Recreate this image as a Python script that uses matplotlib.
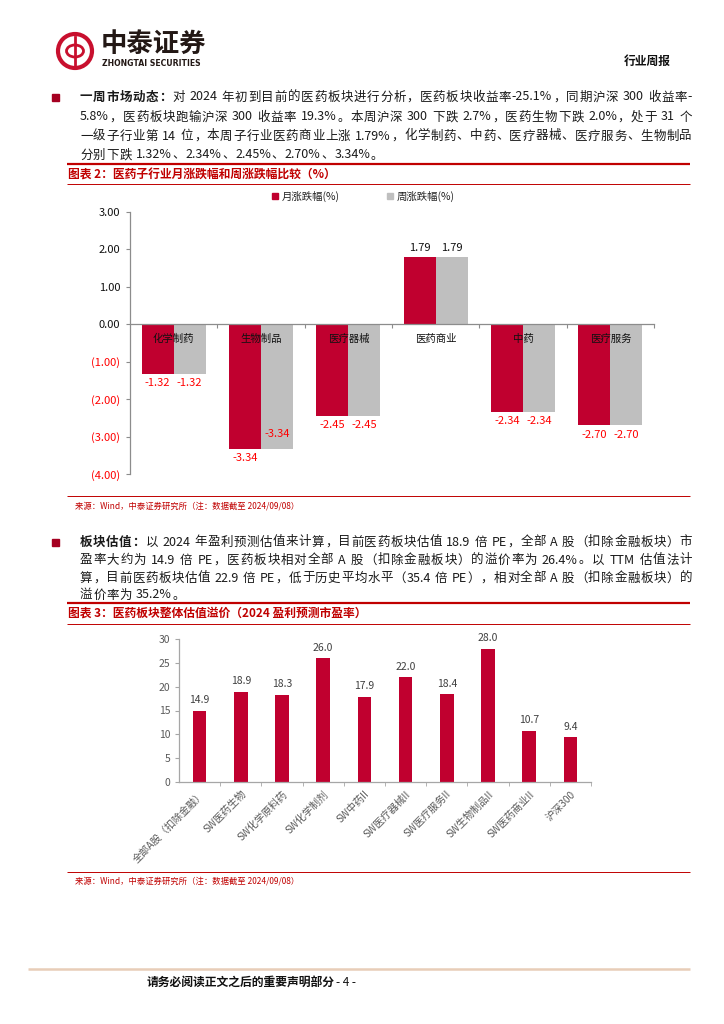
import matplotlib
matplotlib.use('Agg')
import matplotlib.pyplot as plt
import numpy as np
from matplotlib.patches import Circle, Rectangle, Ellipse

plt.rcParams['font.family'] = ['Noto Sans CJK SC', 'DejaVu Sans']
plt.rcParams['axes.unicode_minus'] = False

# ---------------- data ----------------
sub_cats = ['化学制药', '生物制品', '医疗器械', '医药商业', '中药', '医疗服务']
monthly_chg = [-1.32, -3.34, -2.45, 1.79, -2.34, -2.70]
weekly_chg = [-1.32, -3.34, -2.45, 1.79, -2.34, -2.70]
series_names = ['月涨跌幅(%)', '周涨跌幅(%)']
y1_ticks = [3, 2, 1, 0, -1, -2, -3, -4]

val_cats = ['全部A股（扣除金融）', 'SW医药生物', 'SW化学原料药', 'SW化学制剂', 'SW中药II',
            'SW医疗器械II', 'SW医疗服务II', 'SW生物制品II', 'SW医药商业II', '沪深300']
pe_values = [14.9, 18.9, 18.3, 26.0, 17.9, 22.0, 18.4, 28.0, 10.7, 9.4]
y2_ticks = [0, 5, 10, 15, 20, 25, 30]

para1 = [
    [('一周市场动态：', 'bold'), ('对 2024 年初到目前的医药板块进行分析，医药板块收益率-25.1%，同期沪深 300 收益率-', 'normal')],
    [('5.8%，医药板块跑输沪深 300 收益率 19.3%。本周沪深 300 下跌 2.7%，医药生物下跌 2.0%，处于 31 个', 'normal')],
    [('一级子行业第 14 位，本周子行业医药商业上涨 1.79%，化学制药、中药、医疗器械、医疗服务、生物制品', 'normal')],
    [('分别下跌 1.32%、2.34%、2.45%、2.70%、3.34%。', 'normal')],
]
para2 = [
    [('板块估值：', 'bold'), ('以 2024 年盈利预测估值来计算，目前医药板块估值 18.9 倍 PE，全部 A 股（扣除金融板块）市', 'normal')],
    [('盈率大约为 14.9 倍 PE，医药板块相对全部 A 股（扣除金融板块）的溢价率为 26.4%。以 TTM 估值法计', 'normal')],
    [('算，目前医药板块估值 22.9 倍 PE，低于历史平均水平（35.4 倍 PE），相对全部 A 股（扣除金融板块）的', 'normal')],
    [('溢价率为 35.2%。', 'normal')],
]
title1 = '图表 2：医药子行业月涨跌幅和周涨跌幅比较（%）'
title2 = '图表 3：医药板块整体估值溢价（2024 盈利预测市盈率）'
source_txt = '来源：Wind，中泰证券研究所（注：数据截至 2024/09/08）'

# ---------------- styles ----------------
RED = '#C00000'
BAR_RED = '#C0002F'
GREY = '#BFBFBF'
W, H = 724, 1024

fig = plt.figure(figsize=(W / 100, H / 100), dpi=100)
bg = fig.add_axes([0, 0, 1, 1], zorder=0)
bg.set_xlim(0, W)
bg.set_ylim(H, 0)
bg.axis('off')
renderer = fig.canvas.get_renderer()

_cache = {}
def tw(s, size, weight):
    key = (s, size, weight)
    if key not in _cache:
        t = bg.text(0, 0, s, fontsize=size, fontweight=weight)
        _cache[key] = t.get_window_extent(renderer).width
        t.remove()
    return _cache[key]

def tokenize(s):
    out, buf = [], ''
    for ch in s:
        if ord(ch) < 128 and ch != ' ':
            buf += ch
        else:
            if buf:
                out.append(buf)
                buf = ''
            out.append(ch)
    if buf:
        out.append(buf)
    return out

def draw_line(x0, x1, y, runs, size, justify, color='#1a1a1a'):
    toks = []
    for txt, wt in runs:
        for tk in tokenize(txt):
            toks.append((tk, wt))
    widths = [size * 1.389 * 0.25 if tk == ' ' else tw(tk, size, wt) for tk, wt in toks]
    total = sum(widths)
    gap = (x1 - x0 - total) / (len(toks) - 1) if justify and len(toks) > 1 else 0.6
    x = x0
    for (tk, wt), wd in zip(toks, widths):
        if tk != ' ':
            bg.text(x, y, tk, fontsize=size, fontweight=wt, color=color, ha='left', va='center')
        x += wd + gap

def hline(y, x0=67, x1=690, color=RED, lw=0.8):
    bg.plot([x0, x1], [y, y], color=color, lw=lw, solid_capstyle='butt')

# ---------------- header ----------------
bg.add_patch(Circle((75, 51), 17, fill=False, ec='#C8102E', lw=3.0))
bg.add_patch(Ellipse((75, 51), 17, 12, fill=False, ec='#C8102E', lw=2.0))
bg.plot([75, 75], [37, 65], color='#C8102E', lw=2.0)
bg.text(101, 44, '中泰证券', fontsize=19, fontweight='bold', color='#231815', ha='left', va='center')
bg.text(102, 63, 'ZHONGTAI SECURITIES', fontsize=5.6, fontweight='bold', color='#231815',
        ha='left', va='center', family='DejaVu Sans')
bg.text(671, 61, '行业周报', fontsize=8.5, fontweight='bold', color='#111111', ha='right', va='center')

# ---------------- paragraph 1 ----------------
FS = 9
bg.add_patch(Rectangle((52, 93.5), 7, 7, color='#A50021'))
ys1 = [97, 117, 136, 155]
for i, (runs, y) in enumerate(zip(para1, ys1)):
    draw_line(80, 692, y, runs, FS, justify=(i < len(para1) - 1))

hline(164, lw=1.6)
bg.text(68, 175, title1, fontsize=8.5, fontweight='bold', color=RED, ha='left', va='center')
hline(184, lw=0.7)

# legend chart 1
bg.add_patch(Rectangle((272, 193), 6, 6, color=BAR_RED))
bg.text(282, 196, series_names[0], fontsize=7.5, color='#222222', ha='left', va='center')
bg.add_patch(Rectangle((387, 193), 6, 6, color=GREY))
bg.text(397, 196, series_names[1], fontsize=7.5, color='#222222', ha='left', va='center')

# ---------------- chart 1 ----------------
ax1 = fig.add_axes([130 / W, 1 - 474 / H, 524 / W, 262 / H], zorder=2)
ax1.patch.set_alpha(0)
x = np.arange(len(sub_cats))
bw = 0.367
ax1.bar(x - bw / 2, monthly_chg, bw, color=BAR_RED, zorder=2)
ax1.bar(x + bw / 2, weekly_chg, bw, color=GREY, zorder=2)
ax1.set_xlim(-0.5, len(sub_cats) - 0.5)
ax1.set_ylim(min(y1_ticks), max(y1_ticks))
for s in ['top', 'right']:
    ax1.spines[s].set_visible(False)
ax1.spines['bottom'].set_position(('data', 0))
for s in ['left', 'bottom']:
    ax1.spines[s].set_color('#8C8C8C')
    ax1.spines[s].set_linewidth(0.9)
ax1.set_yticks(y1_ticks)
ax1.set_yticklabels([f'{v:.2f}' if v >= 0 else f'({abs(v):.2f})' for v in y1_ticks], fontsize=8)
for lab, v in zip(ax1.get_yticklabels(), y1_ticks):
    lab.set_color('#FF0000' if v < 0 else '#111111')
ax1.tick_params(axis='y', length=3, color='#8C8C8C', pad=4)
ax1.set_xticks(np.arange(0.5, len(sub_cats), 1))
ax1.set_xticklabels([])
ax1.tick_params(axis='x', length=3, color='#8C8C8C')
for i, c in enumerate(sub_cats):
    ax1.text(i, -0.4, c, ha='center', va='center', fontsize=7.5, color='#111111', zorder=3)
for i, (m, wv) in enumerate(zip(monthly_chg, weekly_chg)):
    for xpos, v, kind in [(i - bw / 2, m, 'm'), (i + bw / 2, wv, 'w')]:
        lab = f'{v:.2f}'
        if v >= 0:
            ax1.annotate(lab, (xpos, v), xytext=(0, 3), textcoords='offset points',
                         ha='center', va='bottom', fontsize=8, color='#111111')
        elif kind == 'w' and i == 1:
            ax1.text(xpos, v + 0.4, lab, ha='center', va='center', fontsize=8, color='#FF0000', zorder=3)
        else:
            ax1.annotate(lab, (xpos, v), xytext=(0, -3), textcoords='offset points',
                         ha='center', va='top', fontsize=8, color='#FF0000')

hline(496, lw=0.7)
bg.text(75, 506, source_txt, fontsize=6, color=RED, ha='left', va='center')

# ---------------- paragraph 2 ----------------
bg.add_patch(Rectangle((52, 538.5), 7, 7, color='#A50021'))
ys2 = [542, 560, 578, 595]
for i, (runs, y) in enumerate(zip(para2, ys2)):
    draw_line(80, 692, y, runs, FS, justify=(i < len(para2) - 1))

hline(603, lw=1.6)
bg.text(68, 613, title2, fontsize=8.5, fontweight='bold', color=RED, ha='left', va='center')
hline(624, lw=0.7)

# ---------------- chart 2 ----------------
ax2 = fig.add_axes([179 / W, 1 - 782 / H, 412 / W, 143 / H], zorder=2)
ax2.patch.set_alpha(0)
x2 = np.arange(len(val_cats))
ax2.bar(x2, pe_values, 0.33, color=BAR_RED, zorder=2)
ax2.set_xlim(-0.5, len(val_cats) - 0.5)
ax2.set_ylim(min(y2_ticks), max(y2_ticks))
for s in ['top', 'right']:
    ax2.spines[s].set_visible(False)
for s in ['left', 'bottom']:
    ax2.spines[s].set_color('#A6A6A6')
    ax2.spines[s].set_linewidth(0.9)
ax2.set_yticks(y2_ticks)
ax2.set_yticklabels([str(v) for v in y2_ticks], fontsize=7.5, color='#595959')
ax2.tick_params(axis='y', length=3, color='#A6A6A6', pad=3)
ax2.set_xticks(x2)
ax2.set_xticklabels(val_cats, rotation=45, ha='right', rotation_mode='anchor',
                    fontsize=7.3, color='#595959')
ax2.tick_params(axis='x', which='major', length=0, pad=5)
ax2.set_xticks(np.arange(0.5, len(val_cats), 1), minor=True)
ax2.tick_params(axis='x', which='minor', length=3, color='#A6A6A6')
for xi, v in zip(x2, pe_values):
    ax2.annotate(f'{v:.1f}', (xi, v), xytext=(0, 4), textcoords='offset points',
                 ha='center', va='bottom', fontsize=7.5, color='#404040')

hline(872, lw=0.7)
bg.text(75, 881, source_txt, fontsize=6, color=RED, ha='left', va='center')

# ---------------- footer ----------------
hline(969, x0=28, x1=690, color='#E8CDB8', lw=1.8)
t = bg.text(147, 983, '请务必阅读正文之后的重要声明部分', fontsize=8.5, fontweight='bold',
            color='#111111', ha='left', va='center')
wfoot = t.get_window_extent(renderer).width
bg.text(147 + wfoot + 1, 983, '- 4 -', fontsize=8.5, color='#111111', ha='left', va='center')

fig.savefig('out.png', dpi=100)
